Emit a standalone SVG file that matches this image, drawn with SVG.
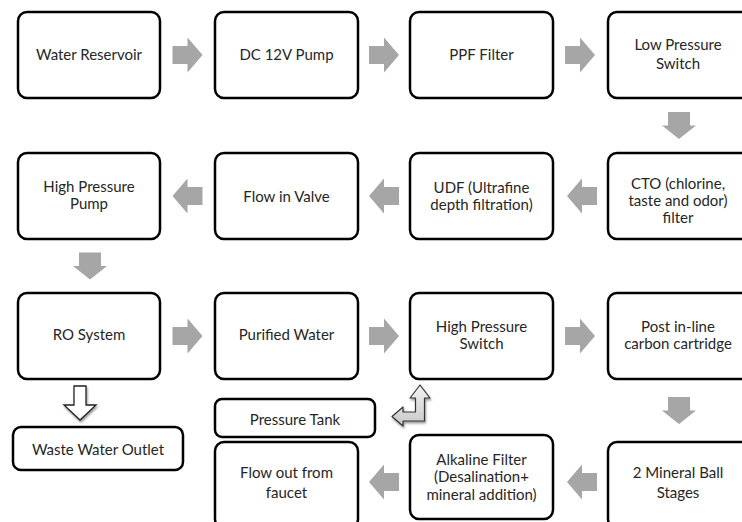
<svg xmlns="http://www.w3.org/2000/svg" width="742" height="522" viewBox="0 0 742 522">
<style>
.box{fill:#fff;stroke:#000;stroke-width:2.5}
.t{font-family:Lato,"Open Sans","Liberation Sans",sans-serif;font-size:15px;fill:#262626;text-anchor:middle}
.ga{fill:#a6a6a6}
</style>
<defs>
<path id="ar" d="M-15,-9 H0 V-17.5 L15,0 L0,17.5 V9 H-15 Z"/>
<path id="ad" d="M-11,-13.5 H11 V0 H17 L0,13.5 L-17,0 H-11 Z"/>
<linearGradient id="bg" x1="0" y1="0" x2="0" y2="1"><stop offset="0" stop-color="#f2f2f2"/><stop offset="1" stop-color="#c8c8c8"/></linearGradient>
<filter id="sh" x="-30%" y="-30%" width="160%" height="160%"><feGaussianBlur in="SourceAlpha" stdDeviation="1.2"/><feOffset dx="1" dy="1.5" result="b"/><feComponentTransfer><feFuncA type="linear" slope="0.4"/></feComponentTransfer><feMerge><feMergeNode/><feMergeNode in="SourceGraphic"/></feMerge></filter>
</defs>
<rect width="742" height="522" fill="#fff"/>
<g id="connectors">
<use href="#ar" class="ga" x="187.5" y="55"/>
<use href="#ar" class="ga" x="384" y="55"/>
<use href="#ar" class="ga" x="580" y="55"/>
<use href="#ad" class="ga" x="679" y="125.5"/>
<use href="#ar" class="ga" transform="translate(582,196) scale(-1,1)"/>
<use href="#ar" class="ga" transform="translate(384,196) scale(-1,1)"/>
<use href="#ar" class="ga" transform="translate(187.5,196) scale(-1,1)"/>
<use href="#ad" class="ga" x="90" y="266"/>
<use href="#ar" class="ga" x="187.5" y="336"/>
<use href="#ar" class="ga" x="384" y="336"/>
<use href="#ar" class="ga" x="580" y="336"/>
<use href="#ad" class="ga" x="679" y="410.5"/>
<use href="#ar" class="ga" transform="translate(582,482) scale(-1,1)"/>
<use href="#ar" class="ga" transform="translate(384,482) scale(-1,1)"/>
<path d="M74,386 H86 V405 H96 L80,420 L64,405 H74 Z" fill="#fff" stroke="#222" stroke-width="1.3" filter="url(#sh)"/>
<path d="M420,385 L430,398 H424.5 V421 H403 V426 L392,416.5 L403,407 V412 H415.5 V398 H410 Z" fill="url(#bg)" stroke="#333" stroke-width="1.2" stroke-linejoin="round" filter="url(#sh)"/>
</g>
<g id="n1"><rect class="box" x="18" y="12" width="142" height="86" rx="9"/><text class="t" x="89" y="60">Water Reservoir</text></g>
<g id="n2"><rect class="box" x="215" y="12" width="143" height="86" rx="9"/><text class="t" x="286.5" y="60">DC 12V Pump</text></g>
<g id="n3"><rect class="box" x="410" y="12" width="143" height="86" rx="9"/><text class="t" x="481.5" y="60">PPF Filter</text></g>
<g id="n4"><rect class="box" x="608" y="12" width="142" height="86" rx="9"/><text class="t" x="678" y="50">Low Pressure</text><text class="t" x="678" y="69">Switch</text></g>
<g id="n5"><rect class="box" x="608" y="153" width="142" height="86" rx="9"/><text class="t" x="678" y="189">CTO (chlorine,</text><text class="t" x="678" y="206">taste and odor)</text><text class="t" x="678" y="223">filter</text></g>
<g id="n6"><rect class="box" x="410" y="153" width="143" height="86" rx="9"/><text class="t" x="481.5" y="193">UDF (Ultrafine</text><text class="t" x="481.5" y="210">depth filtration)</text></g>
<g id="n7"><rect class="box" x="215" y="153" width="143" height="86" rx="9"/><text class="t" x="286.5" y="202">Flow in Valve</text></g>
<g id="n8"><rect class="box" x="18" y="153" width="142" height="86" rx="9"/><text class="t" x="89" y="192">High Pressure</text><text class="t" x="89" y="209">Pump</text></g>
<g id="n9"><rect class="box" x="18" y="293" width="142" height="86" rx="9"/><text class="t" x="89" y="340">RO System</text></g>
<g id="n10"><rect class="box" x="215" y="293" width="143" height="86" rx="9"/><text class="t" x="286.5" y="340">Purified Water</text></g>
<g id="n11"><rect class="box" x="410" y="293" width="143" height="86" rx="9"/><text class="t" x="481.5" y="332">High Pressure</text><text class="t" x="481.5" y="349">Switch</text></g>
<g id="n12"><rect class="box" x="608" y="293" width="142" height="86" rx="9"/><text class="t" x="678" y="332">Post in-line</text><text class="t" x="678" y="349">carbon cartridge</text></g>
<g id="n13"><rect class="box" x="13" y="427" width="170" height="43" rx="8"/><text class="t" x="98" y="455">Waste Water Outlet</text></g>
<g id="n14"><rect class="box" x="215" y="399" width="160" height="38" rx="7"/><text class="t" x="295" y="425">Pressure Tank</text></g>
<g id="n15"><rect class="box" x="215" y="442" width="143" height="86" rx="9"/><text class="t" x="286.5" y="478">Flow out from</text><text class="t" x="286.5" y="498">faucet</text></g>
<g id="n16"><rect class="box" x="410" y="435" width="143" height="84" rx="9"/><text class="t" x="481.5" y="465">Alkaline Filter</text><text class="t" x="481.5" y="482">(Desalination+</text><text class="t" x="481.5" y="500">mineral addition)</text></g>
<g id="n17"><rect class="box" x="608" y="442" width="142" height="86" rx="9"/><text class="t" x="678" y="478">2 Mineral Ball</text><text class="t" x="678" y="498">Stages</text></g>
</svg>
